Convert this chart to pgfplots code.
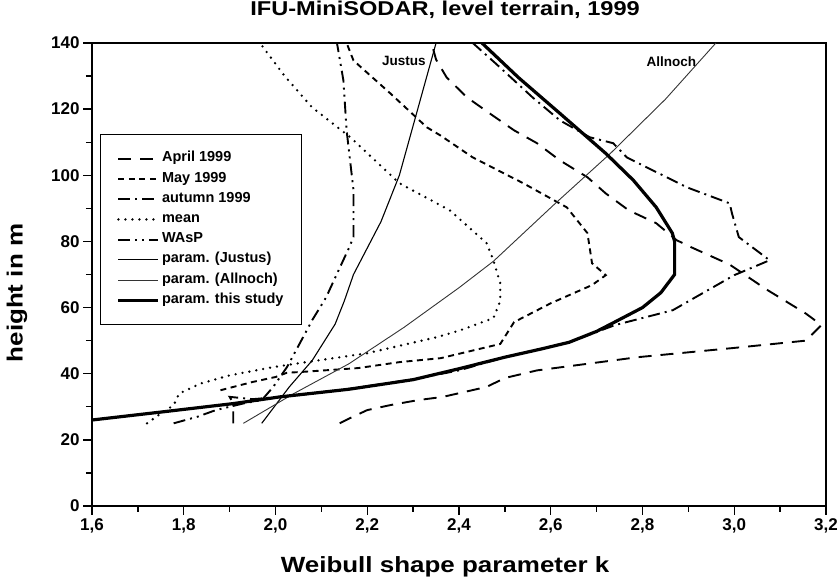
\documentclass[border=0pt]{standalone}
\usepackage{pgfplots}
\pgfplotsset{compat=1.18}
\usepackage{fontspec}
\setmainfont{Liberation Sans}
\newfontfamily\widefont{Liberation Sans}[FakeStretch=1.18]
\begin{document}
\begin{tikzpicture}
\useasboundingbox (-92pt,-74pt) rectangle (748pt,506pt);
\begin{axis}[
  scale only axis, width=734pt, height=463pt,
  xmin=1.6, xmax=3.2, ymin=0, ymax=140,
  xtick={1.6,1.8,2.0,2.2,2.4,2.6,2.8,3.0,3.2},
  ytick={0,20,40,60,80,100,120,140},
  minor x tick num=1, minor y tick num=1,
  tick align=outside, xtick pos=left, ytick pos=left,
  major tick length=9pt, minor tick length=6pt,
  axis line style={line width=1.8pt},
  every tick/.style={line width=1.3pt, black},
  /pgf/number format/assume math mode=true,
  /pgf/number format/use comma,
  xticklabel style={/pgf/number format/fixed, /pgf/number format/fixed zerofill, /pgf/number format/precision=1},
  tick label style={font=\bfseries\fontsize{17}{17}\selectfont},
  xlabel={Weibull shape parameter k},
  ylabel={height in m},
  xlabel style={at={(axis description cs:0.481,-0.1318)}, anchor=center, font=\widefont\bfseries\fontsize{22}{22}\selectfont},
  ylabel style={at={(axis description cs:-0.1022,0.46)}, anchor=center, rotate=0, font=\widefont\bfseries\fontsize{22}{22}\selectfont},
  title={IFU-MiniSODAR, level terrain, 1999},
  title style={at={(axis description cs:0.481,1.058)}, anchor=center, font=\widefont\bfseries\fontsize{20}{20}\selectfont},
  legend image code/.code={\draw[#1] (0pt,0pt) -- (40pt,0pt);},
  legend cell align=left,
  legend style={at={(axis cs:1.618,112.4)}, anchor=north west, draw=black, line width=1.2pt,
    inner xsep=16pt, inner ysep=16pt, row sep=4.2pt,
    font=\bfseries\fontsize{14.5}{14.5}\selectfont,
    nodes={inner xsep=2pt, inner ysep=0pt, text height=11pt, text depth=5pt}},
]
% April 1999
\addplot[black, line width=1.9pt, dash pattern=on 13pt off 9pt] coordinates {
(2.14,25)(2.163,26.6)(2.20,29)(2.25,30.5)(2.31,32)(2.365,33)(2.46,36)(2.50,38.7)(2.57,41)(2.79,45)(3.0,47.8)(3.156,50)(3.19,54.7)(3.156,58.2)(3.07,65.5)(2.99,73)(2.91,78)(2.874,80.4)(2.83,85.5)(2.77,89.4)(2.72,94.5)(2.68,99.4)(2.62,104.5)(2.57,109.7)(2.52,113.6)(2.467,118.7)(2.417,123.6)(2.373,129.6)(2.35,135)(2.34,140)};
\addlegendentry{April 1999}
% May 1999
\addplot[black, line width=1.9pt, dash pattern=on 6pt off 4.5pt] coordinates {
(1.88,35)(1.95,37.5)(2.0,39)(2.025,40.3)(2.053,40.5)(2.18,41.7)(2.27,43.5)(2.36,44.7)(2.49,49)(2.52,55.6)(2.60,61.3)(2.69,66.8)(2.72,69.8)(2.69,73.4)(2.68,82.5)(2.635,90.3)(2.54,97.6)(2.43,105.4)(2.36,112)(2.33,114.5)(2.25,124.8)(2.17,134.7)(2.155,140)};
\addlegendentry{May 1999}
% autumn 1999
\addplot[black, line width=1.9pt, dash pattern=on 12pt off 5pt on 2pt off 5pt] coordinates {
(1.908,25)(1.908,31)(1.90,33)(1.95,32.3)(2.05,33.5)(2.17,35.6)(2.30,38.3)(2.40,41)(2.50,45)(2.64,49.5)(2.74,54.7)(2.866,59.2)(3.00,69.8)(3.077,74.3)(3.01,81.3)(2.995,88.5)(2.99,91.5)(2.896,96.4)(2.766,105.4)(2.736,109.7)(2.685,111.5)(2.62,116.6)(2.56,123.6)(2.48,133.8)(2.43,140)};
\addlegendentry{autumn 1999}
% mean
\addplot[black, line width=2.6pt, line cap=round, dash pattern=on 0pt off 7pt] coordinates {
(1.72,25)(1.74,27)(1.778,30.5)(1.79,34)(1.836,37)(1.90,39.5)(1.995,42)(2.053,43.2)(2.2,46.2)(2.35,51)(2.40,53)(2.475,56.8)(2.49,62)(2.49,67.3)(2.475,74.3)(2.46,79.5)(2.38,89.4)(2.27,97.6)(2.163,111.5)(2.08,120.5)(2.02,130)(1.966,140)};
\addlegendentry{mean}
% WAsP
\addplot[black, line width=1.9pt, dash pattern=on 12pt off 5pt on 2pt off 5pt on 2pt off 5pt] coordinates {
(1.778,25)(1.83,27)(1.87,29)(1.93,31)(1.97,32)(1.995,36)(2.025,42)(2.06,51)(2.08,56.2)(2.11,63)(2.14,72)(2.16,78)(2.17,81.3)(2.17,95.5)(2.155,113.6)(2.148,128.7)(2.134,140)};
\addlegendentry{WAsP}
% param. (Justus)
\addplot[black, line width=1.1pt] coordinates {
(1.97,25)(2.03,36)(2.08,44)(2.13,55)(2.15,62)(2.17,70)(2.20,78)(2.23,86)(2.25,93)(2.27,100)(2.29,110)(2.31,120)(2.33,130)(2.35,140)};
\addlegendentry{param. (Justus)}
% param. (Allnoch)
\addplot[black!80, line width=0.9pt] coordinates {
(1.93,25)(2.04,34)(2.16,43)(2.28,54)(2.40,66)(2.475,74)(2.61,91.5)(2.73,106.6)(2.85,123)(2.96,140)};
\addlegendentry{param. (Allnoch)}
% param. this study
\addplot[black, line width=3.2pt] coordinates {
(1.6,26)(1.75,28.4)(1.91,31)(2.01,33)(2.16,35.3)(2.30,38.2)(2.40,41.5)(2.50,45)(2.58,47.5)(2.64,49.5)(2.70,52.8)(2.735,55.3)(2.80,60)(2.84,64.5)(2.87,70)(2.87,80)(2.865,82.5)(2.83,90.3)(2.78,98.5)(2.72,106.6)(2.62,118.7)(2.53,129.5)(2.45,140)};
\addlegendentry{param. this study}
\node[font=\bfseries\fontsize{13.5}{13.5}\selectfont] at (axis cs:2.28,134.5) {Justus};
\node[font=\bfseries\fontsize{13.5}{13.5}\selectfont] at (axis cs:2.863,134.5) {Allnoch};
\end{axis}
\end{tikzpicture}
\end{document}
